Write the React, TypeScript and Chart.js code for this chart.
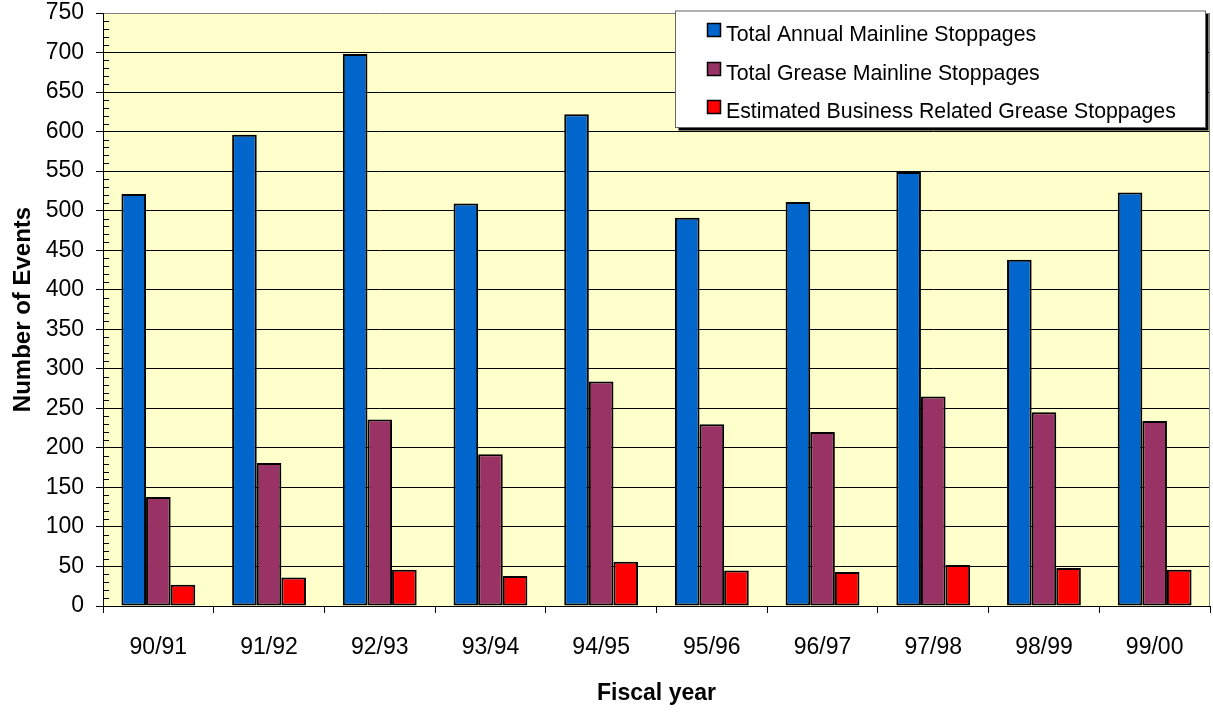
import React, { useEffect, useRef } from 'react';
import { Chart, registerables } from 'chart.js';

Chart.register(...registerables);

const categories = ['90/91', '91/92', '92/93', '93/94', '94/95', '95/96', '96/97', '97/98', '98/99', '99/00'];
const totalMainline = [521, 596, 698, 509, 622, 491, 511, 549, 438, 523];
const greaseMainline = [138, 181, 236, 192, 284, 230, 220, 265, 245, 234];
const businessGrease = [27, 36, 46, 38, 56, 45, 43, 52, 48, 46];
const seriesLabels = [
  'Total Annual Mainline Stoppages',
  'Total Grease Mainline Stoppages',
  'Estimated Business Related Grease Stoppages',
];
const seriesColors = ['#0066CC', '#993366', '#FF0000'];
const yMin = 0;
const yMax = 750;
const yStep = 50;
const yMinorStep = 10;
const xTitle = 'Fiscal year';
const yTitle = 'Number of Events';

const FONT = '"Liberation Sans", Arial, Helvetica, sans-serif';

const plotBg = {
  id: 'plotBg',
  beforeDraw(chart: any) {
    const { ctx, chartArea: a } = chart;
    ctx.save();
    ctx.fillStyle = '#FFFFCC';
    ctx.fillRect(a.left, a.top, a.right - a.left, a.bottom - a.top);
    ctx.restore();
  },
  beforeDatasetsDraw(chart: any) {
    const { ctx, chartArea: a } = chart;
    ctx.save();
    ctx.strokeStyle = '#808080';
    ctx.lineWidth = 1;
    ctx.beginPath();
    const x = Math.round(a.right) - 0.5;
    ctx.moveTo(x, a.top);
    ctx.lineTo(x, a.bottom);
    ctx.stroke();
    ctx.restore();
  },
};

const minorTicks = {
  id: 'minorTicks',
  afterDatasetsDraw(chart: any) {
    const { ctx, chartArea: a } = chart;
    const ys = chart.scales.y;
    ctx.save();
    ctx.strokeStyle = '#000';
    ctx.lineWidth = 1;
    ctx.beginPath();
    for (let v = yMin; v <= yMax; v += yMinorStep) {
      if (v % yStep === 0) continue;
      const py = Math.round(ys.getPixelForValue(v)) + 0.5;
      ctx.moveTo(a.left, py);
      ctx.lineTo(a.left + 6, py);
    }
    ctx.stroke();
    ctx.restore();
  },
};

const boxLegend = {
  id: 'boxLegend',
  afterDraw(chart: any) {
    const { ctx } = chart;
    const bx = 675.5;
    const by = 11;
    const bw = 530;
    const bh = 116.5;
    ctx.save();
    ctx.fillStyle = '#000';
    ctx.fillRect(bx + 3, by + 3, bw, bh);
    ctx.fillStyle = '#FFFFFF';
    ctx.fillRect(bx, by, bw, bh);
    ctx.strokeStyle = '#666';
    ctx.lineWidth = 1;
    ctx.strokeRect(bx, by, bw, bh);
    ctx.font = `21.3px ${FONT}`;
    ctx.textBaseline = 'middle';
    ctx.textAlign = 'left';
    chart.data.datasets.forEach((ds: any, i: number) => {
      const cy = 30 + i * 38.7;
      ctx.fillStyle = ds.backgroundColor;
      ctx.fillRect(707.5, Math.round(cy - 7) + 0.5, 13, 13);
      ctx.strokeStyle = '#000';
      ctx.lineWidth = 1.5;
      ctx.strokeRect(707.5, Math.round(cy - 7) + 0.5, 13, 13);
      ctx.fillStyle = '#000';
      ctx.fillText(ds.label, 726, cy + 5);
    });
    ctx.restore();
  },
};

export default function App() {
  const canvasRef = useRef<HTMLCanvasElement | null>(null);

  useEffect(() => {
    document.body.style.margin = '0';
    const canvas = canvasRef.current;
    if (!canvas) return;
    const seriesData = [totalMainline, greaseMainline, businessGrease];
    const chart = new Chart(canvas, {
      type: 'bar',
      data: {
        labels: categories,
        datasets: seriesData.map((d, i) => ({
          label: seriesLabels[i],
          data: d,
          backgroundColor: seriesColors[i],
          borderColor: '#000',
          borderWidth: 2,
          borderSkipped: false,
          categoryPercentage: 0.667,
          barPercentage: 1.0,
        })),
      },
      options: {
        responsive: false,
        animation: false,
        events: [],
        layout: { padding: { top: 13, right: 3, left: 0, bottom: 0 } },
        plugins: {
          legend: { display: false },
          tooltip: { enabled: false },
          title: { display: false },
        },
        scales: {
          x: {
            type: 'category',
            grid: { display: true, drawOnChartArea: false, offset: true, tickLength: 7, color: '#000' },
            border: { display: true, color: '#000', width: 1 },
            ticks: {
              font: { family: FONT, size: 23 },
              color: '#000',
              padding: 21,
              maxRotation: 0,
              autoSkip: false,
            },
            title: {
              display: true,
              text: xTitle,
              font: { family: FONT, size: 23, weight: 'bold' },
              color: '#000',
              padding: { top: 0, bottom: 5 },
            },
            afterFit(s: any) {
              s.height = 106;
              s.paddingLeft = 0;
              s.paddingRight = 0;
            },
          },
          y: {
            min: yMin,
            max: yMax,
            ticks: {
              stepSize: yStep,
              font: { family: FONT, size: 23 },
              color: '#000',
              padding: 12,
            },
            grid: {
              color: (c: any) => (c.tick && c.tick.value === yMax ? '#808080' : '#000'),
              tickColor: '#000',
              tickLength: 7,
              lineWidth: 1,
            },
            border: { display: true, color: '#000', width: 1 },
            title: {
              display: true,
              text: yTitle,
              font: { family: FONT, size: 24, weight: 'bold' },
              color: '#000',
              padding: { top: 9, bottom: 0 },
            },
            afterFit(s: any) {
              s.width = 103;
              s.paddingTop = 0;
              s.paddingBottom = 0;
            },
          },
        },
      },
      plugins: [plotBg, minorTicks, boxLegend],
    } as any);
    return () => chart.destroy();
  }, []);

  return (
    <div style={{ position: 'absolute', left: 0, top: 0, width: 1213, height: 712, background: '#fff' }}>
      <canvas ref={canvasRef} width={1213} height={712} style={{ display: 'block' }} />
    </div>
  );
}
